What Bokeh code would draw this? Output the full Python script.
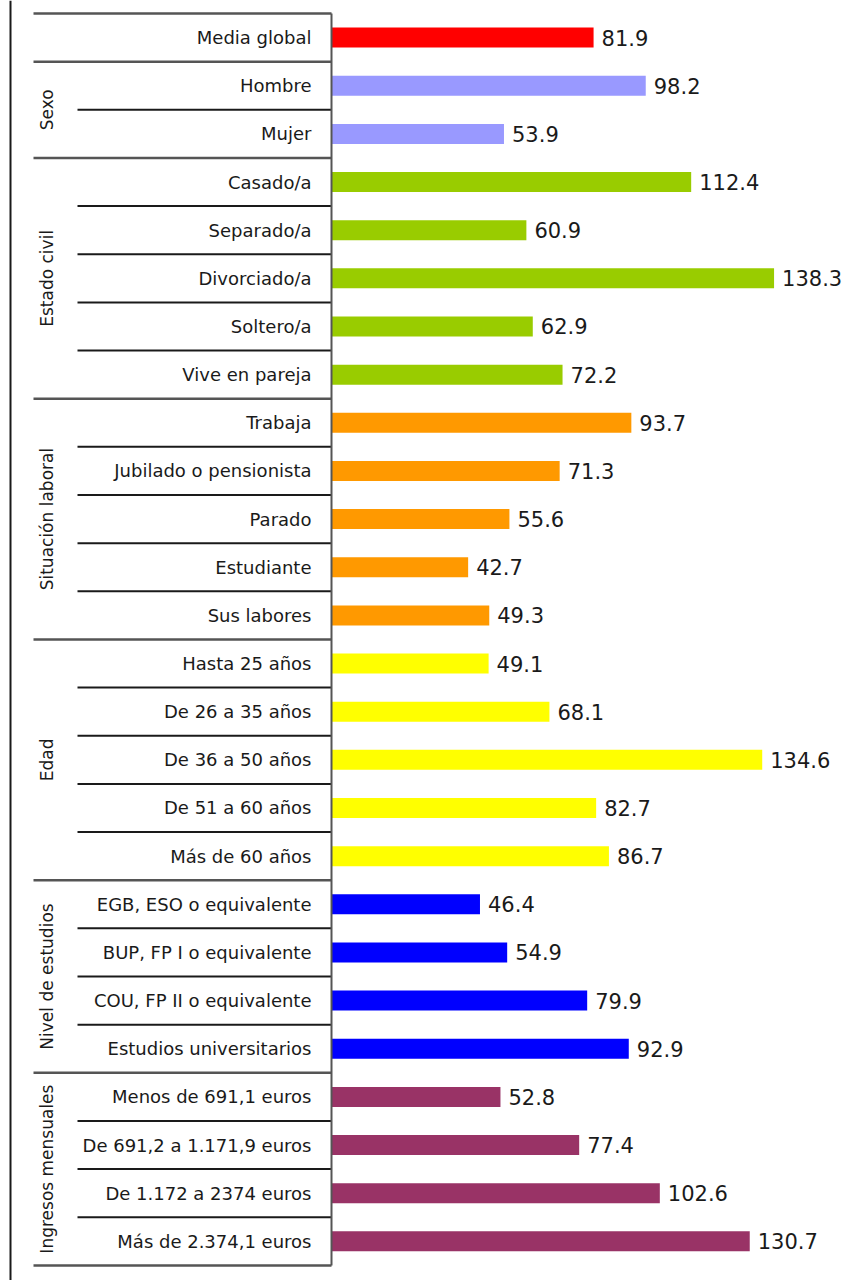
import math
from bokeh.plotting import figure
from bokeh.models import ColumnDataSource, Range1d, Span
from bokeh.core.properties import value
from bokeh.embed import file_html
from bokeh.resources import INLINE

# ---------------- data ----------------
categories = [
    "Media global",
    "Hombre", "Mujer",
    "Casado/a", "Separado/a", "Divorciado/a", "Soltero/a", "Vive en pareja",
    "Trabaja", "Jubilado o pensionista", "Parado", "Estudiante", "Sus labores",
    "Hasta 25 años", "De 26 a 35 años", "De 36 a 50 años", "De 51 a 60 años", "Más de 60 años",
    "EGB, ESO o equivalente", "BUP, FP I o equivalente", "COU, FP II o equivalente",
    "Estudios universitarios",
    "Menos de 691,1 euros", "De 691,2 a 1.171,9 euros", "De 1.172 a 2374 euros",
    "Más de 2.374,1 euros",
]
values = [
    81.9,
    98.2, 53.9,
    112.4, 60.9, 138.3, 62.9, 72.2,
    93.7, 71.3, 55.6, 42.7, 49.3,
    49.1, 68.1, 134.6, 82.7, 86.7,
    46.4, 54.9, 79.9, 92.9,
    52.8, 77.4, 102.6, 130.7,
]
group_names = ["", "Sexo", "Estado civil", "Situación laboral", "Edad",
               "Nivel de estudios", "Ingresos mensuales"]
group_sizes = [1, 2, 5, 5, 5, 4, 4]
group_colors = ["#FF0000", "#9999FF", "#99CC00", "#FF9900", "#FFFF00", "#0000FF", "#993366"]

# ---------------- layout constants (pixels) ----------------
W, H = 852, 1280
X0_PX = 331          # bar baseline pixel
PX_PER_UNIT = 3.2
TOP_PX = 13
ROW_PX = 48.15
FONT = "DejaVu Sans"

def px_to_x(px):
    return (px - X0_PX) / PX_PER_UNIT

n = len(categories)
x_range = Range1d(px_to_x(0), px_to_x(W))
y_range = Range1d((H - TOP_PX) / ROW_PX, -TOP_PX / ROW_PX)  # reversed: row 0 at top

p = figure(width=W, height=H, x_range=x_range, y_range=y_range,
           output_backend="svg", toolbar_location=None,
           min_border=0, min_border_left=0, min_border_right=0,
           min_border_top=0, min_border_bottom=0)
p.axis.visible = False
p.grid.visible = False
p.outline_line_color = None
p.background_fill_color = "white"
p.border_fill_color = "white"

# colours per row
row_colors = []
for c, s in zip(group_colors, group_sizes):
    row_colors += [c] * s

rows = [i + 0.5 for i in range(n)]
src = ColumnDataSource(dict(
    y=rows, v=values, cat=categories, color=row_colors,
    lab=[f"{v:.1f}" for v in values],
    zero=[0] * n,
))

# bars
p.hbar(y="y", left="zero", right="v", height=20 / ROW_PX, fill_color="color",
       line_color=None, source=src)

# value labels
p.text(x="v", y="y", text="lab", source=src, x_offset=8,
       text_font=value(FONT), text_font_size="21px", text_color="#1a1a1a",
       text_align="left", text_baseline="middle")

# category labels
p.text(x="zero", y="y", text="cat", source=src, x_offset=-20,
       text_font=value(FONT), text_font_size="18px", text_color="#1a1a1a",
       text_align="right", text_baseline="middle")

# separator lines
bounds = [0]
for s in group_sizes:
    bounds.append(bounds[-1] + s)
group_lines = set(bounds)
gy, iy = [], []
for i in range(n + 1):
    if i in group_lines:
        gy.append(i)
    else:
        iy.append(i)
p.segment(x0=[px_to_x(33)] * len(gy), x1=[0] * len(gy), y0=gy, y1=gy,
          line_color="#555555", line_width=2.5)
p.segment(x0=[px_to_x(77)] * len(iy), x1=[0] * len(iy), y0=iy, y1=iy,
          line_color="#1a1a1a", line_width=2)
# vertical baseline at zero
p.segment(x0=[0], x1=[0], y0=[0], y1=[n], line_color="#555555", line_width=2)
# outer left border
p.add_layout(Span(location=px_to_x(10), dimension="height",
                  line_color="#1a1a1a", line_width=2))

# group labels (rotated)
gl_y, gl_t = [], []
for name, a, b in zip(group_names, bounds[:-1], bounds[1:]):
    if name:
        gl_y.append((a + b) / 2)
        gl_t.append(name)
p.text(x=[px_to_x(46)] * len(gl_y), y=gl_y, text=gl_t, angle=math.pi / 2,
       text_font=value(FONT), text_font_size="17px", text_color="#1a1a1a",
       text_align="center", text_baseline="middle")

open("out.html", "w").write(file_html(p, INLINE))
